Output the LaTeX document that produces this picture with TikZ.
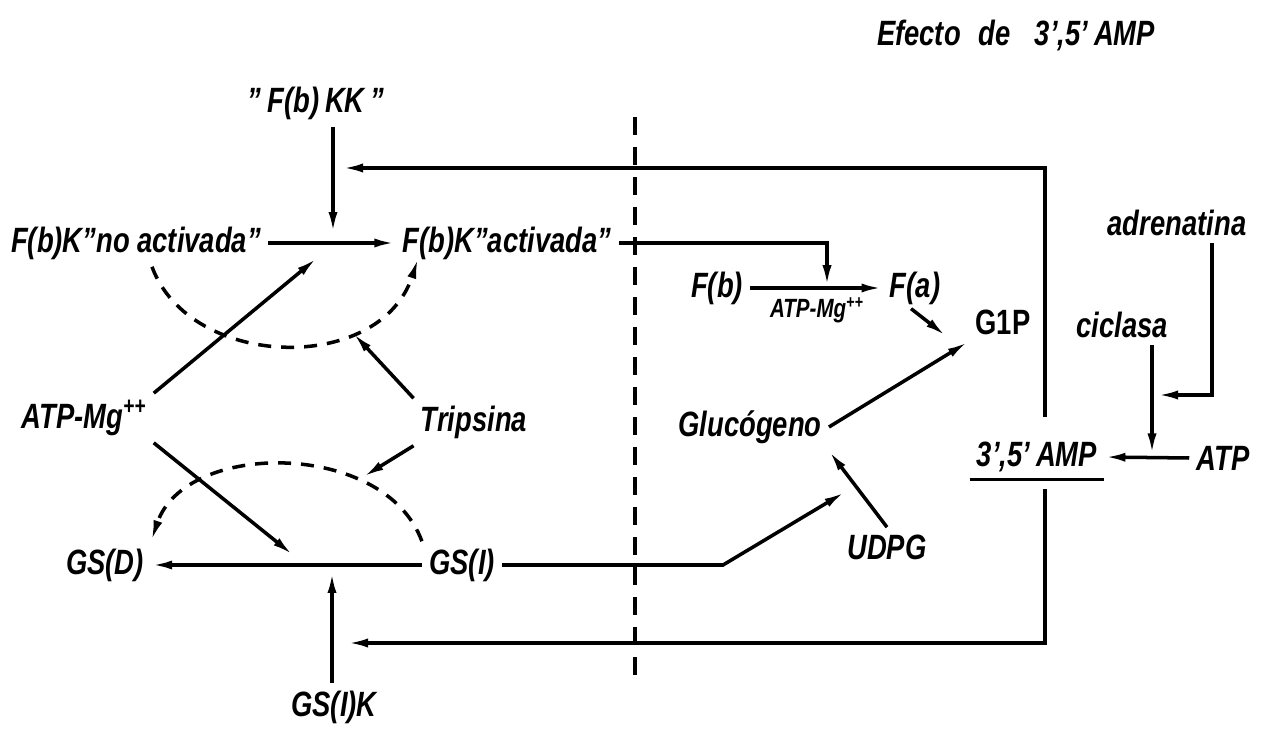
\documentclass[tikz,border=0pt]{standalone}
\usepackage{fontspec}
\setmainfont{Liberation Sans}[FakeStretch=0.78]
\usetikzlibrary{arrows.meta}

\begin{document}
\begin{tikzpicture}[
  x=0.02cm, y=-0.02cm,
  font=\fontsize{20}{24}\selectfont\bfseries\itshape,
  lbl/.style={inner sep=4pt},
  smalllbl/.style={inner sep=2pt, font=\fontsize{15}{17}\selectfont\bfseries\itshape},
  sig/.style={draw=black, line width=2pt, -{Latex[length=4.2mm,width=1.8mm]}},
  wire/.style={draw=black, line width=2pt},
  effarc/.style={draw=black, line width=2pt, dash pattern=on 2.6mm off 2mm,
                 -{Latex[length=4.2mm,width=1.8mm]}},
  divider/.style={draw=black, line width=2pt, dash pattern=on 3.6mm off 2.4mm},
]
\useasboundingbox (0,0) rectangle (1271,729);

% ---------- title ----------
\node (title) at (1016,35) {Efecto\hspace{0.5em}de\hspace{0.7em}3',5'\,AMP};

% ---------- fosforilasa b quinasa ----------
\node[lbl] (fbkk)   at (316,103) {"\,F(b)\,KK\,"};
\node[lbl] (fbkno)  at (136,243) {F(b)K"no activada"};
\node[lbl] (fbkact) at (507,243) {F(b)K"activada"};
\node[lbl] (atpmg)  at (84,418)  {ATP-Mg\textsuperscript{++}};
\node[lbl] (trip)   at (474,422) {Tripsina};

% ---------- glucogeno sintetasa ----------
\node[lbl] (gsd)  at (105,565) {GS(D)};
\node[lbl] (gsi)  at (462,565) {GS(I)};
\node[lbl] (gsik) at (334,707) {GS(I)K};

% ---------- fosforilasa / glucogeno ----------
\node[lbl] (fb)       at (717,288) {F(b)};
\node[lbl] (fa)       at (915,288) {F(a)};
\node[smalllbl] (atpsm) at (817,310) {ATP-Mg\textsuperscript{++}};
\node[lbl, font=\fontsize{20}{24}\selectfont\bfseries\upshape] (g1p) at (1003,322) {G1P};
\node[lbl] (gluc)     at (750,427) {Glucógeno};
\node[lbl] (udpg)     at (887,547) {UDPG};

% ---------- adenilciclasa ----------
\node[lbl] (adren)   at (1177,223) {adrenatina};
\node[lbl] (ciclasa) at (1122,325) {ciclasa};
\node[lbl] (amp)     at (1037,457) {3',5'\,AMP};
\node[lbl] (atp)     at (1223,458) {ATP};

% ---------- points on reaction arrows ----------
\coordinate (kFbk)   at (333,243);
\coordinate (kATPup) at (317,258);
\coordinate (kATPdn) at (293,555);
\coordinate (kGS)    at (332,565);
\coordinate (kTa)    at (353,333);
\coordinate (kTb)    at (363,477);
\coordinate (kFab)   at (827,288);
\coordinate (kG1P)   at (946,336);
\coordinate (cElb)   at (723,565);
\coordinate (kGluc)  at (845,492);
\coordinate (cTR)    at (1045,168);
\coordinate (kTop)   at (342,168);
\coordinate (cBR)    at (1045,643);
\coordinate (kBot)   at (347,643);
\coordinate (cAd)    at (1212,395);
\coordinate (kAd)    at (1157,395);
\coordinate (kATP)   at (1152,458);

% ---------- left half ----------
\draw[sig] (fbkno.east) -- (fbkact.west);
\draw[sig, shorten >=0.2cm] (fbkk.south -| kFbk) -- (kFbk);
\draw[sig] (atpmg.north east) -- (kATPup);
\draw[sig] (atpmg.south east) -- (kATPdn);
\draw[sig] (gsi.west) -- (gsd.east);
\draw[sig, shorten >=0.14cm] (gsik.north -| kGS) -- (kGS);
\draw[sig] (trip.north west) -- (kTa);
\draw[sig] (trip.south west) -- (kTb);
\draw[effarc] ([xshift=0.32cm]fbkno.south) .. controls (190,370) and (380,375)
  .. ([xshift=0.46cm,yshift=0.18cm]fbkact.south west);
\draw[effarc] (gsi.north west) .. controls (385,440) and (185,440) .. (gsd.north east);

% ---------- dividing line ----------
\draw[divider] (635,117) -- (635,675);

% ---------- right half ----------
\draw[sig, shorten >=1pt] (fbkact.east) -| (kFab);
\draw[sig] (fb.east) -- (fa.west);
\draw[sig, shorten <=-0.1cm] (fa.south) -- (kG1P);
\draw[sig] (gluc.east) -- (g1p.south west);
\draw[sig] (udpg.north) -- (gluc.south east);
\draw[sig] (gsi.east) -- (cElb) -- (kGluc);

% ---------- 3',5'AMP feedback ----------
\draw[wire] (amp.south west) -- (amp.south east);
\draw[sig, shorten <=0.36cm] (amp.north -| cTR) -- (cTR) -- (kTop);
\draw[sig, shorten <=0.2cm] (amp.south -| cBR) -- (cBR) -- (kBot);
\draw[sig] (adren.south -| cAd) -- (cAd) -- (kAd);
\draw[sig, shorten >=2pt] (ciclasa.south -| kATP) -- (kATP);
\draw[sig] (atp.west) -- (amp.east);

\end{tikzpicture}
\end{document}
